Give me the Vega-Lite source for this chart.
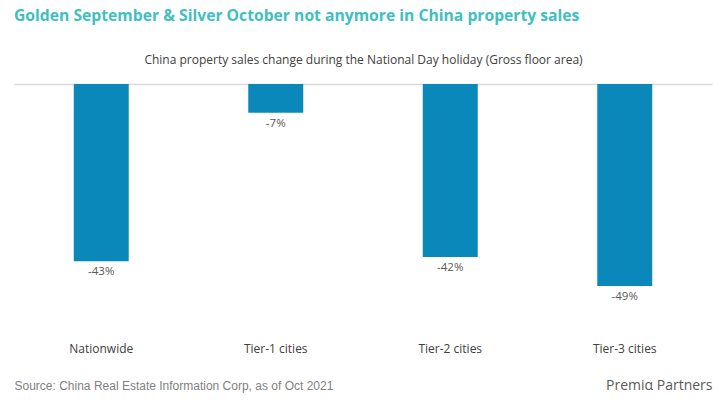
{
  "$schema": "https://vega.github.io/schema/vega-lite/v6.json",
  "autosize": "none",
  "width": 698,
  "height": 206,
  "padding": {"left": 14, "right": 12, "top": 84, "bottom": 117},
  "background": "white",
  "title": {
    "text": "Golden September & Silver October not anymore in China property sales",
    "anchor": "start",
    "frame": "group",
    "font": "Open Sans",
    "fontSize": 15.7,
    "fontWeight": "bold",
    "color": "#3fbfbf",
    "offset": 28
  },
  "data": {
    "values": [
      {"region": "Nationwide", "change": -0.43},
      {"region": "Tier-1 cities", "change": -0.07},
      {"region": "Tier-2 cities", "change": -0.42},
      {"region": "Tier-3 cities", "change": -0.49}
    ]
  },
  "config": {
    "view": {"stroke": null},
    "font": "Open Sans",
    "locale": {
      "number": {
        "decimal": ".",
        "thousands": ",",
        "grouping": [3],
        "currency": ["$", ""],
        "minus": "-"
      }
    }
  },
  "layer": [
    {
      "mark": {"type": "bar", "color": "#0a88b9"},
      "encoding": {
        "x": {
          "field": "region",
          "type": "nominal",
          "sort": null,
          "scale": {"paddingInner": 0.685, "paddingOuter": 0.3425},
          "axis": {
            "orient": "top",
            "labels": false,
            "ticks": false,
            "domain": true,
            "domainColor": "#d9d9d9",
            "domainWidth": 1.5,
            "title": "China property sales change during the National Day holiday (Gross floor area)",
            "titleFont": "Open Sans",
            "titleFontSize": 12,
            "titleFontWeight": "normal",
            "titleColor": "#404040",
            "titlePadding": 18
          }
        },
        "y": {
          "field": "change",
          "type": "quantitative",
          "scale": {"domain": [-0.5, 0], "nice": false},
          "axis": {
            "orient": "right",
            "labels": false,
            "ticks": false,
            "domain": false,
            "grid": false,
            "title": "Premiα Partners",
            "titleAngle": 0,
            "titleAlign": "right",
            "titleBaseline": "middle",
            "titleX": 0,
            "titleY": 301,
            "titleFont": "Open Sans",
            "titleFontSize": 14,
            "titleFontWeight": "normal",
            "titleColor": "#5a5a5a"
          }
        }
      }
    },
    {
      "mark": {"type": "text", "baseline": "top", "dy": 5, "fontSize": 11.5, "color": "#595959", "font": "Open Sans"},
      "encoding": {
        "x": {
          "field": "region",
          "type": "nominal",
          "sort": null,
          "axis": {
            "orient": "bottom",
            "domain": false,
            "ticks": false,
            "tickSize": 0,
            "labelPadding": 53,
            "labelFont": "Open Sans",
            "labelFontSize": 12,
            "labelColor": "#404040",
            "labelAngle": 0,
            "title": "Source: China Real Estate Information Corp, as of Oct 2021",
            "titleAnchor": "start",
            "titleAlign": "left",
            "titleBaseline": "middle",
            "titleX": 0,
            "titleY": 95,
            "titleFont": "Liberation Sans",
            "titleFontSize": 12,
            "titleFontWeight": "normal",
            "titleColor": "#7f7f7f"
          }
        },
        "y": {"field": "change", "type": "quantitative"},
        "text": {"field": "change", "type": "quantitative", "format": ".0%"}
      }
    }
  ],
  "resolve": {"axis": {"x": "independent"}}
}
